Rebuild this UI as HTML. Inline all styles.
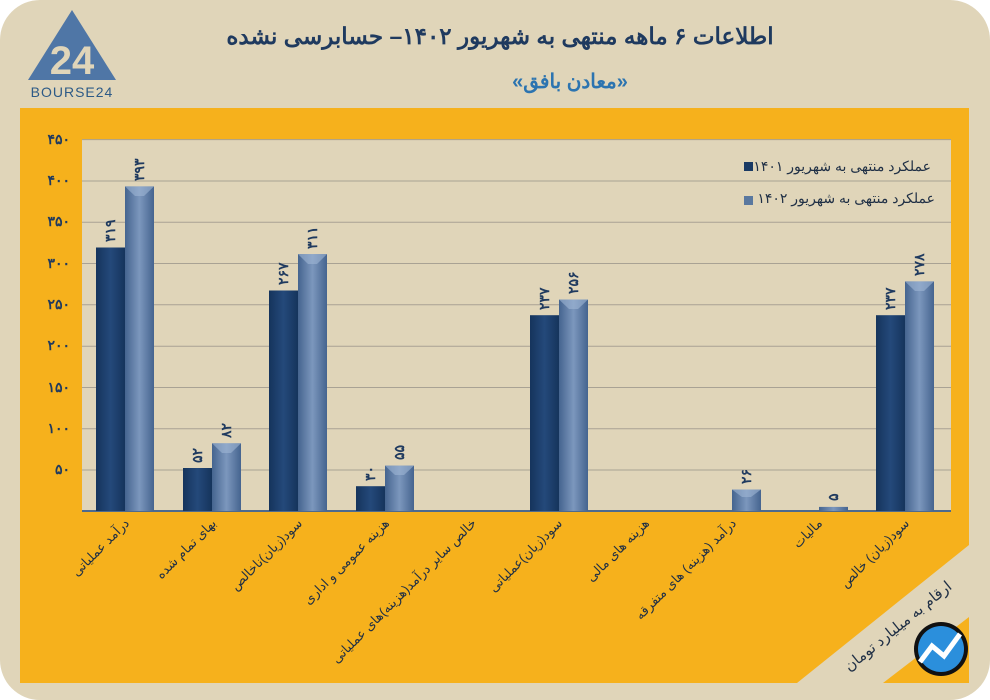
<!DOCTYPE html>
<html><head><meta charset="utf-8"><style>
body{margin:0;background:#fff;}
svg{display:block;font-family:"Liberation Sans","Noto Sans CJK SC",sans-serif;}
</style></head><body>
<svg width="990" height="700" viewBox="0 0 990 700">
<defs>
<linearGradient id="d" x1="0" x2="1"><stop offset="0" stop-color="#15345c"/><stop offset="0.5" stop-color="#24497a"/><stop offset="1" stop-color="#15345c"/></linearGradient>
<linearGradient id="l" x1="0" x2="1"><stop offset="0" stop-color="#45648f"/><stop offset="0.5" stop-color="#7c97bd"/><stop offset="1" stop-color="#45648f"/></linearGradient>
</defs>
<rect x="0" y="0" width="990" height="700" rx="40" fill="#e0d5b9"/>
<polygon points="20,108 969,108 969,545 797,683 20,683" fill="#f6b11c"/>
<polygon points="883,683 969,617 969,683" fill="#f6b11c"/>
<rect x="82" y="140" width="869" height="371" fill="#e0d5b9"/>
<g stroke="#a9a294" stroke-width="1">
<line x1="82" x2="951" y1="139.6" y2="139.6"/><line x1="82" x2="951" y1="181" y2="181"/><line x1="82" x2="951" y1="222.2" y2="222.2"/><line x1="82" x2="951" y1="263.5" y2="263.5"/><line x1="82" x2="951" y1="304.8" y2="304.8"/><line x1="82" x2="951" y1="346.2" y2="346.2"/><line x1="82" x2="951" y1="387.5" y2="387.5"/><line x1="82" x2="951" y1="428.7" y2="428.7"/><line x1="82" x2="951" y1="470" y2="470"/>
</g>
<line x1="82" x2="951" y1="511" y2="511" stroke="#4d6a8e" stroke-width="2"/>
<g font-size="14" font-weight="bold" fill="#1f3a5f" text-anchor="end">
<text x="70" y="144">۴۵۰</text><text x="70" y="185">۴۰۰</text><text x="70" y="226">۳۵۰</text><text x="70" y="268">۳۰۰</text><text x="70" y="309">۲۵۰</text><text x="70" y="350">۲۰۰</text><text x="70" y="392">۱۵۰</text><text x="70" y="433">۱۰۰</text><text x="70" y="474">۵۰</text>
</g>
<g>
<rect x="96" y="247.5" width="29" height="263.5" fill="url(#d)"/><rect x="125" y="186.4" width="29" height="324.6" fill="url(#l)"/>
<rect x="183" y="468" width="29" height="43" fill="url(#d)"/><rect x="212" y="443.3" width="29" height="67.7" fill="url(#l)"/>
<rect x="269" y="290.5" width="29" height="220.5" fill="url(#d)"/><rect x="298" y="254.1" width="29" height="256.9" fill="url(#l)"/>
<rect x="356" y="486.2" width="29" height="24.8" fill="url(#d)"/><rect x="385" y="465.6" width="29" height="45.4" fill="url(#l)"/>
<rect x="530" y="315.2" width="29" height="195.8" fill="url(#d)"/><rect x="559" y="299.5" width="29" height="211.5" fill="url(#l)"/>
<rect x="732" y="489.5" width="29" height="21.5" fill="url(#l)"/>
<rect x="819" y="506.9" width="29" height="4.1" fill="url(#l)"/>
<rect x="876" y="315.2" width="29" height="195.8" fill="url(#d)"/><rect x="905" y="281.4" width="29" height="229.6" fill="url(#l)"/>
</g>
<g fill="#9fb6d4" opacity="0.6">
<polygon points="125,186.4 154,186.4 144,196 135,196"/>
<polygon points="212,443.3 241,443.3 231,453 222,453"/>
<polygon points="298,254.1 327,254.1 317,264 308,264"/>
<polygon points="385,465.6 414,465.6 404,475 395,475"/>
<polygon points="559,299.5 588,299.5 578,309 569,309"/>
<polygon points="732,489.5 761,489.5 751,497 742,497"/>
<polygon points="905,281.4 934,281.4 924,291 915,291"/>
</g>
<g font-size="14" font-weight="bold" fill="#1f3a5f">
<text transform="translate(115,242) rotate(-90)">۳۱۹</text>
<text transform="translate(144,181) rotate(-90)">۳۹۳</text>
<text transform="translate(202,463) rotate(-90)">۵۲</text>
<text transform="translate(231,438) rotate(-90)">۸۲</text>
<text transform="translate(288,285) rotate(-90)">۲۶۷</text>
<text transform="translate(317,249) rotate(-90)">۳۱۱</text>
<text transform="translate(375,481) rotate(-90)">۳۰</text>
<text transform="translate(404,460) rotate(-90)">۵۵</text>
<text transform="translate(549,310) rotate(-90)">۲۳۷</text>
<text transform="translate(578,294) rotate(-90)">۲۵۶</text>
<text transform="translate(751,484) rotate(-90)">۲۶</text>
<text transform="translate(838,501) rotate(-90)">۵</text>
<text transform="translate(895,310) rotate(-90)">۲۳۷</text>
<text transform="translate(924,276) rotate(-90)">۲۷۸</text>
</g>
<g font-size="13" fill="#1f2f45" text-anchor="start" direction="rtl">
<text transform="translate(130,524) rotate(-45)">درآمد عملیاتی</text>
<text transform="translate(217,524) rotate(-45)">بهای تمام شده</text>
<text transform="translate(303,524) rotate(-45)">سود(زیان)ناخالص</text>
<text transform="translate(390,524) rotate(-45)">هزینه عمومی و اداری</text>
<text transform="translate(477,524) rotate(-45)">خالص سایر درآمد(هزینه)های عملیاتی</text>
<text transform="translate(563,524) rotate(-45)">سود(زیان)عملیاتی</text>
<text transform="translate(650,524) rotate(-45)">هزینه های مالی</text>
<text transform="translate(737,524) rotate(-45)">درآمد (هزینه) های متفرقه</text>
<text transform="translate(823,524) rotate(-45)">مالیات</text>
<text transform="translate(910,524) rotate(-45)">سود(زیان) خالص</text>
</g>
<rect x="744" y="162" width="9" height="9" fill="#1a3a64"/>
<rect x="744" y="196" width="9" height="9" fill="#5a789f"/>
<g font-size="14" fill="#1f2f45" text-anchor="start" direction="rtl">
<text x="931" y="171">عملکرد منتهی به شهریور ۱۴۰۱</text>
<text x="935" y="203">عملکرد منتهی به شهریور ۱۴۰۲</text>
</g>
<text x="500" y="44" font-size="23" font-weight="bold" fill="#1f3a5f" text-anchor="middle" direction="rtl">اطلاعات ۶ ماهه منتهی به شهریور ۱۴۰۲– حسابرسی نشده</text>
<text x="570" y="88" font-size="20" font-weight="bold" fill="#2c74b0" text-anchor="middle" direction="rtl">«معادن بافق»</text>
<polygon points="72,10 116,80 28,80" fill="#4f76a6"/>
<text x="72" y="74" font-size="40" fill="#e0d5b9" text-anchor="middle" font-weight="bold">24</text>
<text x="72" y="97" font-size="14" fill="#2d5a86" text-anchor="middle" letter-spacing="1">BOURSE24</text>
<text transform="translate(901,630) rotate(-39)" font-size="15" fill="#1f2f45" text-anchor="middle" direction="rtl">ارقام به میلیارد تومان</text>
<circle cx="941" cy="649" r="27" fill="#111"/>
<circle cx="941" cy="649" r="23" fill="#2b8fdc"/>
<polyline points="920,662 932,646 944,656 960,634" fill="none" stroke="#fff" stroke-width="5"/>
</svg>
</body></html>
